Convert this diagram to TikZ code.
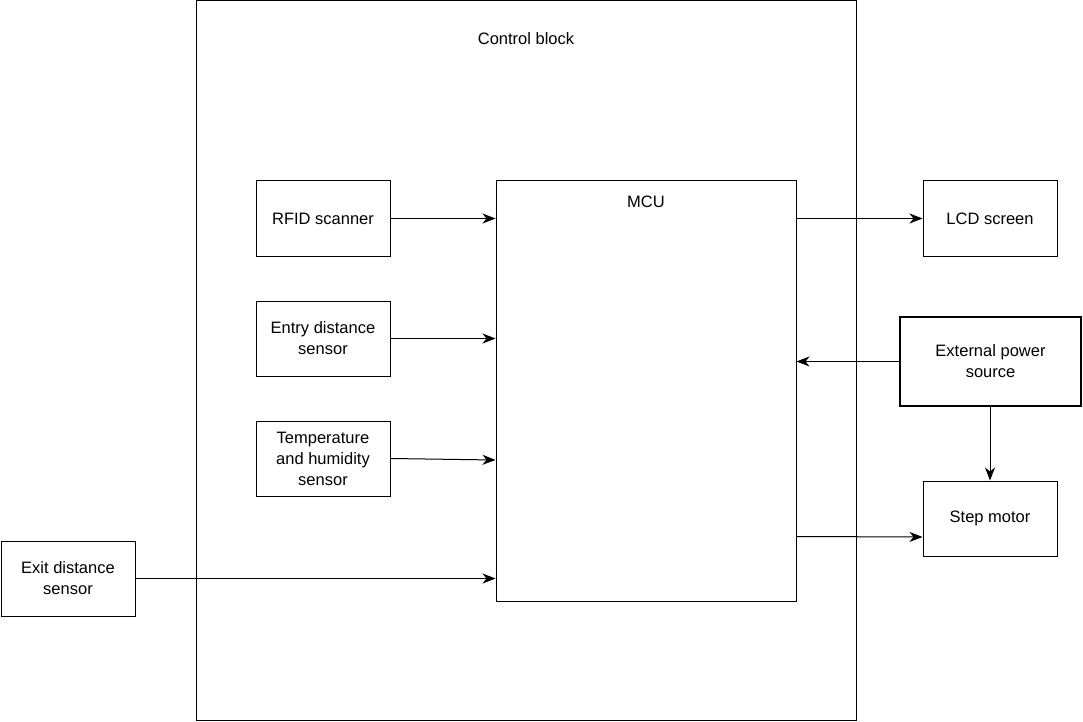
\documentclass[tikz,border=0pt]{standalone}
\usepackage{fontspec}
\setmainfont{Liberation Sans}
\usetikzlibrary{arrows.meta}
\begin{document}
\begin{tikzpicture}[x=1pt,y=-1pt,
  every node/.style={font=\fontsize{16.5}{21}\selectfont, align=center, inner sep=0pt},
  blk/.style={draw, line width=1pt, rectangle, minimum width=134pt, minimum height=75pt},
  conn/.style={draw, line width=1pt, -{Stealth[length=13pt,width=10pt,inset=4pt]}}]
\useasboundingbox (0,0) rectangle (1083,722);
\node[draw, line width=1pt, minimum width=660pt, minimum height=719pt] (ctrl) at (526,360.5) {};
\node (ctrllbl) at (526,39) {Control block};
\node[draw, line width=1pt, minimum width=300pt, minimum height=420pt] (mcu) at (646,391) {};
\node (mculbl) at (646,202) {MCU};
\node[blk] (rfid) at (323,218.5) {RFID scanner};
\node[blk] (entry) at (323,338.5) {Entry distance\\sensor};
\node[blk] (temp) at (323,458.5) {Temperature\\and humidity\\sensor};
\node[blk] (exit) at (68,578.5) {Exit distance\\sensor};
\node[blk] (lcd) at (990,218.5) {LCD screen};
\node[draw, line width=2.5pt, minimum width=181pt, minimum height=89pt] (ext) at (990.5,361.5) {External power\\source};
\node[blk] (step) at (990,518.5) {Step motor};
\draw[conn] (rfid.east) -- (rfid.east -| mcu.west);
\draw[conn] (entry.east) -- (entry.east -| mcu.west);
\draw[conn] (temp.east) -- ([yshift=-1.5pt]temp.east -| mcu.west);
\draw[conn] (exit.east) -- (exit.east -| mcu.west);
\draw[conn] (mcu.east |- lcd.west) -- (lcd.west);
\draw[conn] (ext.west) -- (ext.west -| mcu.east);
\draw[conn] (step.north |- ext.south) -- (step.north);
\draw[conn] ([yshift=-18pt]step.west -| mcu.east) -- ([yshift=-18.5pt]step.west);
\end{tikzpicture}
\end{document}
